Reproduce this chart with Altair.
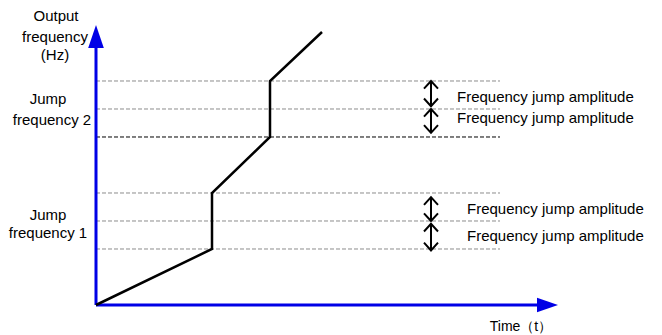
import altair as alt
import pandas as pd

# ---- data (time units, output frequency units) ----
curve_t = [0, 5.8, 5.8, 8.7, 8.7, 11.3]
curve_f = [0, 20, 40, 60, 80, 97.5]

level_f = [20, 30, 40, 60, 70, 80]
level_color = ["#8c8c8c", "#8c8c8c", "#8c8c8c", "#000000", "#8c8c8c", "#8c8c8c"]
level_end_t = 20.2

arrow_t = 16.75
arrow_top = [80, 70, 38.5, 29]
arrow_bot = [71, 61.5, 30, 19.5]

amp_label = ["Frequency jump amplitude"] * 4
amp_t = [18.05, 18.05, 18.55, 18.55]
amp_f = [72.5, 65, 32.5, 22.9]

left_label = ["Output", "frequency", "(Hz)", "Jump", "frequency 2", "Jump", "frequency 1"]
left_t = [-2.0, -2.05, -2.05, -2.4, -2.2, -2.4, -2.4]
left_f = [101.4, 93.9, 87.5, 71.8, 64.2, 30.4, 23.9]

time_label = ["Time（t）"]
time_t = [21.25]
time_f = [-9.3]

y_axis_end = 91.8
y_head_f = 95.9
x_axis_end = 22.05
x_head_t = 22.575

# ---- scales ----
xs = alt.Scale(domain=[-4.4, 27.9], nice=False, zero=False)
ys = alt.Scale(domain=[-10.714, 106.07], nice=False, zero=False)
X = lambda f: alt.X(f, type="quantitative", scale=xs, axis=None)
Y = lambda f: alt.Y(f, type="quantitative", scale=ys, axis=None)

BLUE = "#0000e6"

levels_df = pd.DataFrame({"t0": [0] * len(level_f), "t1": [level_end_t] * len(level_f),
                          "f": level_f, "c": level_color})
levels = alt.Chart(levels_df).mark_rule(strokeDash=[4, 2], strokeWidth=1).encode(
    x=X("t0"), x2="t1", y=Y("f"), color=alt.Color("c:N", scale=None))

yaxis = alt.Chart(pd.DataFrame({"t": [0], "f0": [0], "f1": [y_axis_end]})).mark_rule(
    color=BLUE, strokeWidth=3).encode(x=X("t"), y=Y("f0"), y2="f1")
xaxis = alt.Chart(pd.DataFrame({"t0": [0], "t1": [x_axis_end], "f": [0]})).mark_rule(
    color=BLUE, strokeWidth=3).encode(x=X("t0"), x2="t1", y=Y("f"))
yhead = alt.Chart(pd.DataFrame({"t": [0], "f": [y_head_f]})).mark_point(
    shape="M0,-1L0.68,1L-0.68,1Z", filled=True, color=BLUE, size=529, opacity=1).encode(
    x=X("t"), y=Y("f"))
xhead = alt.Chart(pd.DataFrame({"t": [x_head_t], "f": [0]})).mark_point(
    shape="M1,0L-1,-0.7L-1,0.7Z", filled=True, color=BLUE, size=441, opacity=1).encode(
    x=X("t"), y=Y("f"))

curve_df = pd.DataFrame({"t": curve_t, "f": curve_f, "o": list(range(len(curve_t)))})
curve = alt.Chart(curve_df).mark_line(color="black", strokeWidth=2.5, strokeJoin="miter").encode(
    x=X("t"), y=Y("f"), order="o:Q")

arr_df = pd.DataFrame({"t": [arrow_t] * len(arrow_top), "a": arrow_top, "b": arrow_bot})
shafts = alt.Chart(arr_df).mark_rule(color="black", strokeWidth=2).encode(
    x=X("t"), y=Y("a"), y2="b")
heads_up = alt.Chart(arr_df).mark_point(
    shape="M-1,1.1L0,0L1,1.1", filled=False, color="black", strokeWidth=2, size=196, opacity=1).encode(
    x=X("t"), y=Y("a"))
heads_dn = alt.Chart(arr_df).mark_point(
    shape="M-1,-1.1L0,0L1,-1.1", filled=False, color="black", strokeWidth=2, size=196, opacity=1).encode(
    x=X("t"), y=Y("b"))

amp_df = pd.DataFrame({"s": amp_label, "t": amp_t, "f": amp_f})
amp_text = alt.Chart(amp_df).mark_text(align="left", baseline="alphabetic", font="Liberation Sans",
                                       fontSize=15, color="black").encode(
    x=X("t"), y=Y("f"), text="s:N")

left_df = pd.DataFrame({"s": left_label, "t": left_t, "f": left_f})
left_text = alt.Chart(left_df).mark_text(align="center", baseline="alphabetic", font="Liberation Sans",
                                         fontSize=15, color="black").encode(
    x=X("t"), y=Y("f"), text="s:N")

time_df = pd.DataFrame({"s": time_label, "t": time_t, "f": time_f})
time_text = alt.Chart(time_df).mark_text(align="center", baseline="alphabetic", font="Liberation Sans",
                                         fontSize=14, color="black").encode(
    x=X("t"), y=Y("f"), text="s:N")

chart = alt.layer(levels, yaxis, xaxis, yhead, xhead, curve, shafts, heads_up, heads_dn,
                  amp_text, left_text, time_text).properties(
    width=646, height=327, autosize=alt.AutoSizeParams(type="none"), padding=0,
    background="white").configure_view(stroke=None)

chart.save("out.html", embed_options={"renderer": "svg", "actions": False})
